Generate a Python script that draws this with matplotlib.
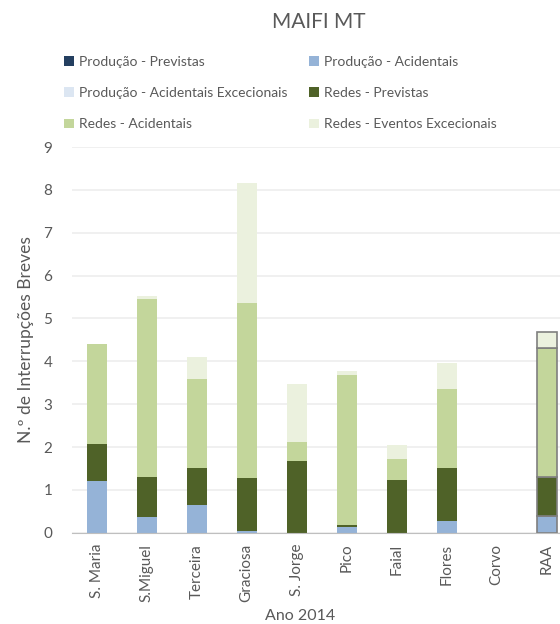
import numpy as np
import matplotlib
matplotlib.use("Agg")
import matplotlib.pyplot as plt
from matplotlib.patches import Patch

plt.rcParams["font.family"] = ["Lato", "DejaVu Sans"]

ilhas = ["S. Maria", "S.Miguel", "Terceira", "Graciosa", "S. Jorge",
         "Pico", "Faial", "Flores", "Corvo", "RAA"]

prod_previstas = [0, 0, 0, 0, 0, 0, 0, 0, 0, 0]
prod_acidentais = [1.21, 0.37, 0.64, 0.03, 0, 0.14, 0, 0.27, 0, 0.38]
prod_acid_excecionais = [0, 0, 0, 0, 0, 0, 0, 0, 0, 0]
redes_previstas = [0.86, 0.93, 0.88, 1.24, 1.68, 0.04, 1.23, 1.24, 0, 0.92]
redes_acidentais = [2.34, 4.16, 2.07, 4.09, 0.43, 3.50, 0.48, 1.85, 0, 3.02]
redes_excecionais = [0, 0.06, 0.52, 2.80, 1.37, 0.09, 0.33, 0.61, 0, 0.36]

series = [
    ("Produção - Previstas", prod_previstas, "#243F60"),
    ("Produção - Acidentais", prod_acidentais, "#95B3D7"),
    ("Produção - Acidentais Excecionais", prod_acid_excecionais, "#DCE6F2"),
    ("Redes - Previstas", redes_previstas, "#4F6228"),
    ("Redes - Acidentais", redes_acidentais, "#C3D69B"),
    ("Redes - Eventos Excecionais", redes_excecionais, "#EBF1DE"),
]

txt = "#595959"
fig = plt.figure(figsize=(5.6, 6.24), dpi=100)
ax = fig.add_axes([0.128, 0.1463, 0.872, 0.618])

x = np.arange(len(ilhas))
bottom = np.zeros(len(ilhas))
# the regional total (last bar) gets a grey outline
edges = ["none"] * (len(ilhas) - 1) + ["#7F7F7F"]
for nome, vals, cor in series:
    vals = np.array(vals)
    ax.bar(x, vals, 0.4, bottom=bottom, color=cor, edgecolor=edges,
           linewidth=1.2, zorder=3)
    bottom += vals

ax.set_xlim(-0.5, 9.266)
ax.set_ylim(0, 9)
ax.set_yticks(range(10))
ax.set_xticks(x)
ax.set_xticklabels(ilhas, rotation=90)
ax.tick_params(axis="both", length=0, colors=txt, labelsize=11)
ax.tick_params(axis="y", pad=14)
ax.tick_params(axis="x", pad=8)
ax.grid(axis="y", color="#EDEDED", linewidth=1.2, zorder=0)
for s in ["top", "right", "left"]:
    ax.spines[s].set_visible(False)
ax.spines["bottom"].set_color("#BFBFBF")
ax.spines["bottom"].set_zorder(4)

ax.set_ylabel("N.º de Interrupções Breves", color=txt, fontsize=12.5)
ax.yaxis.set_label_coords(-0.077, 0.5)
fig.text(0.536, 0.006, "Ano 2014", ha="center", va="baseline", color=txt, fontsize=11.5)
fig.text(0.57, 0.965, "MAIFI MT", ha="center", va="center", color=txt, fontsize=15)

handles = [Patch(facecolor=c, label=n) for n, _, c in series]
order = [0, 2, 4, 1, 3, 5]
leg = fig.legend([handles[i] for i in order], [handles[i].get_label() for i in order],
                 ncol=2, loc="upper left", bbox_to_anchor=(0.092, 0.931), frameon=False,
                 fontsize=10, handlelength=0.7, handleheight=0.7, handletextpad=0.35,
                 columnspacing=1.6, labelspacing=1.4, labelcolor=txt)

fig.savefig("out.png", dpi=100)
